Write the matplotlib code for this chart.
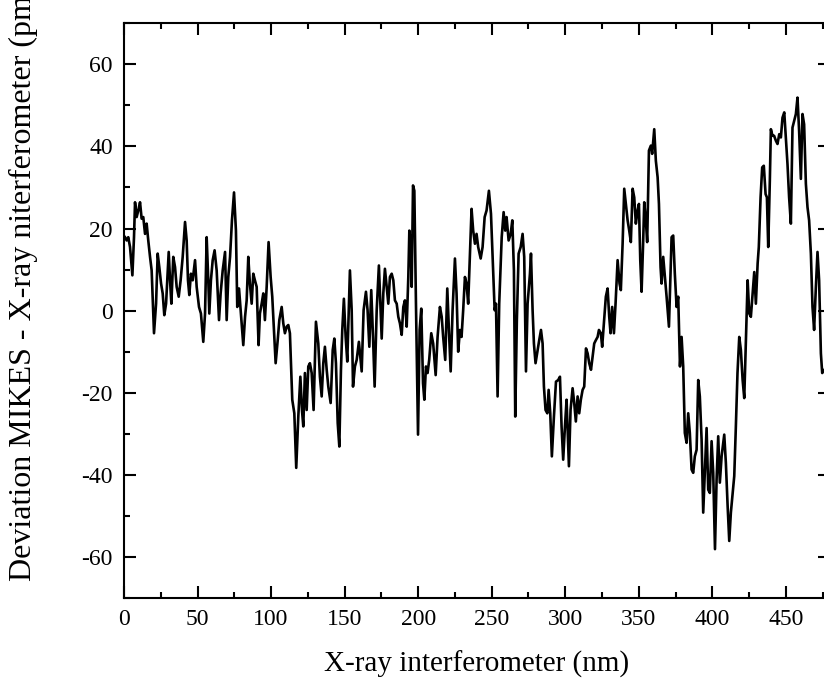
import matplotlib.pyplot as plt
from matplotlib.ticker import MultipleLocator

# X-ray interferometer position (nm) and deviation (pm)
x_nm = [
    0.7, 1.8, 2.9, 4.1, 5.7, 6.8, 7.5, 8.6, 9.7, 10.9, 12.0, 13.1, 14.3, 15.4, 16.5,
    17.7, 18.8, 20.4, 21.8, 22.9, 24.0, 25.2, 26.3, 27.4, 28.6, 30.4, 31.3, 32.2,
    33.5, 34.7, 35.8, 37.2, 38.5, 39.9, 41.5, 42.6, 43.5, 44.4, 45.5, 46.7, 48.3,
    49.4, 51.0, 52.3, 53.9, 55.1, 56.2, 57.3, 58.0, 59.1, 60.3, 61.6, 63.0, 64.6,
    65.7, 67.1, 68.7, 69.8, 70.9, 72.1, 73.4, 74.8, 76.1, 77.0, 78.2, 79.3, 81.1,
    82.3, 83.4, 84.5, 85.6, 86.8, 87.9, 89.0, 90.2, 91.5,
    92.4, 93.6, 94.7, 95.8, 97.0, 98.3, 99.7, 100.8, 101.7, 103.1, 104.5, 105.6,
    107.2, 108.3, 109.4, 110.6, 111.7, 112.8, 114.4, 115.8, 117.1, 118.5, 119.9,
    121.0, 121.9, 123.0, 124.2, 125.3, 126.4, 127.6, 128.9, 130.5, 132.1, 133.2,
    134.4, 135.5, 136.6, 137.8, 138.9, 140.5, 141.9, 143.0, 144.1, 145.3, 146.4,
    147.5, 148.4, 149.5, 150.7, 151.8, 153.6, 154.8, 155.7, 157.0, 158.2, 159.7,
    161.6, 162.9, 164.5, 165.6, 166.8, 168.1, 169.3, 170.4, 171.8, 173.3, 175.2,
    176.3, 177.4, 178.6, 179.7, 180.8, 182.0, 183.1, 184.2,
    185.4, 186.5, 187.6, 188.8, 189.9, 191.0, 192.2, 193.3, 194.0, 194.9, 195.6,
    196.5, 197.4, 198.5, 199.9, 201.0, 202.1, 203.3, 204.2, 205.3, 206.4, 207.5,
    208.9, 210.2, 211.9, 213.2, 214.8, 216.0, 217.0, 218.4, 219.8, 220.9, 222.1,
    223.4, 225.0, 226.1, 227.2, 228.4, 229.5, 230.6, 231.8, 232.9, 234.0, 235.2,
    236.3, 237.4, 238.6, 239.7, 240.8, 242.5, 243.8, 245.2, 246.5, 248.1, 249.5,
    251.0, 252.0, 252.9, 254.0, 255.1, 256.8, 258.1, 259.2, 260.1, 261.5, 262.9,
    264.0, 265.1, 266.0, 267.1, 268.3, 269.7, 271.0, 272.1, 273.3, 274.4, 276.0,
    276.7, 277.8, 278.7, 279.8, 281.2, 282.3, 283.5, 284.6, 285.5, 286.6, 287.8,
    288.7, 289.8, 290.9, 292.3, 293.7, 295.2, 296.4, 297.5, 298.6, 299.8, 300.9,
    302.5, 303.6, 305.0, 306.1, 307.2, 308.4, 309.5, 310.6, 311.8, 312.9, 314.1,
    315.2, 316.3, 317.5, 318.6, 319.7, 320.8, 322.0, 322.9, 324.2, 325.1, 326.3,
    327.6, 328.8, 329.9, 330.8, 331.9, 333.1, 334.2, 335.6, 336.9, 337.8, 339.0,
    340.1, 341.2, 342.4, 343.5, 344.6, 345.8, 346.9, 348.0, 349.2, 350.1, 351.0,
    351.9, 353.0, 353.7, 354.8, 355.7, 356.9, 358.2, 359.1, 360.5, 361.6, 362.8,
    363.7, 364.8, 365.5, 366.6, 367.8, 368.9, 370.5,
    372.3, 373.4, 374.5, 375.7, 376.8, 378.0, 379.1, 380.2, 381.3, 382.5, 383.6,
    384.7, 385.9, 387.0, 388.1, 389.3, 390.4, 391.5, 392.7, 393.8, 394.9, 396.1,
    397.2, 398.3, 399.5, 400.6, 401.8, 402.9, 404.0, 405.1, 406.3, 407.4, 408.1,
    409.2, 410.4, 411.5, 412.6, 413.8, 414.9, 416.0, 417.1, 418.3, 419.4, 420.6,
    421.7, 422.8, 424.0, 425.1, 426.2, 427.4, 428.5, 429.6, 430.8, 431.6, 432.8,
    433.9, 435.0, 436.2, 437.1, 438.0, 439.1, 439.8, 440.9, 442.0, 443.2, 444.3,
    445.5, 446.6, 447.7, 448.9, 450.0, 451.1, 452.2, 453.4, 454.5, 455.6, 456.8,
    457.9, 459.0, 460.2, 461.3, 462.4, 463.6, 464.7, 465.8, 467.0, 468.1, 469.2,
    470.4, 471.5, 472.6, 473.8, 474.7, 477.0,
]
dev_pm = [
    17.9, 17.1, 17.9, 15.5, 8.6, 17.9, 26.4, 22.8, 24.4, 26.4, 22.4, 22.8, 18.7, 21.2, 17.1,
    13.1, 9.8, -5.5, 1.7, 13.9, 10.6, 6.6, 4.2, -1.1, 1.7, 14.3, 7.4, 1.7,
    13.1, 10.6, 5.8, 3.4, 7.4, 13.1, 21.6, 17.1, 7.4, 3.8, 9.0, 7.4, 12.3,
    5.8, 0.9, -0.7, -7.6, -0.7, 17.9, 7.4, -0.7, 7.4, 12.3, 14.7, 9.8, -2.3,
    4.2, 9.8, 14.3, -2.3, 8.2, 13.1, 22.0, 28.8, 19.5, 0.9, 5.4, 0.1, -8.4,
    -1.5, 2.5, 13.1, 6.6, 1.7, 9.0, 7.4, 5.8, -8.4,
    -0.7, 1.7, 4.2, -2.3, 5.8, 16.7, 8.2, 3.4, -3.1, -12.8, -7.2, -2.3,
    0.9, -3.1, -5.5, -3.9, -3.5, -5.5, -21.7, -25.0, -38.3, -25.8, -16.1,
    -24.2, -28.2, -15.2, -24.2, -13.6, -12.8, -15.2, -24.2, -2.7, -8.0, -16.1,
    -20.9, -12.8, -8.8, -14.4, -18.5, -22.5, -9.6, -6.8, -12.8, -27.4, -33.1,
    -14.4, -4.7, 2.9, -6.4, -12.4, 9.8, 0.1, -18.5, -13.6, -12.0, -7.6,
    -14.8, 0.1, 4.6, 0.1, -8.8, 5.0, -6.4, -18.5, 0.1, 11.0, -6.8,
    4.2, 10.2, 5.8, 1.7, 8.2, 9.0, 7.4, 2.5,
    1.7, -1.5, -3.1, -5.9, 0.9, 2.5, -3.9, 8.2, 19.5, 16.3, 5.8,
    30.5, 29.2, 1.7, -30.2, -4.7, 0.5, -17.7, -21.7, -13.6, -15.2, -12.0,
    -5.5, -8.0, -15.7, -6.4, 0.9, -1.5, -6.4, -12.0, 5.4, -4.7, -14.8,
    0.1, 12.7, 4.2, -10.0, -4.7, -6.4, 0.1, 8.2, 6.6, 1.7, 13.9,
    24.8, 19.5, 16.3, 18.7, 15.5, 12.7, 15.5, 22.8, 24.4, 29.2, 23.6,
    9.8, 0.1, 1.7, -20.9, 1.7, 17.9, 24.0, 19.5, 22.8, 17.1, 18.7,
    22.0, 9.8, -25.8, -2.3, 13.9, 15.5, 18.7, 13.1, -14.8, 1.7, 9.0,
    13.9, 0.1, -8.0, -12.8, -9.6, -7.2, -4.7, -8.0, -18.5, -24.2, -25.0,
    -19.3, -25.0, -35.5, -25.8, -17.3, -16.9, -16.1, -28.2, -36.3, -28.2, -21.7,
    -37.9, -24.2, -18.9, -22.5, -27.0, -20.9, -25.0, -21.7, -19.3, -18.5, -9.2,
    -10.4, -12.8, -14.4, -11.2, -8.0, -7.2, -6.4, -4.7, -5.5, -8.8, -3.1,
    3.4, 5.4, -1.5, -5.5, 0.9, -5.5, 1.7, 12.3, 6.6, 5.0, 16.3,
    29.7, 26.0, 22.0, 19.5, 16.7, 29.7, 27.6, 21.2, 24.4, 26.0, 12.3,
    4.6, 17.1, 26.4, 22.0, 16.7, 39.0, 40.2, 38.2, 44.2, 36.5, 32.5,
    26.0, 10.6, 6.6, 13.1, 8.2, 3.4, -3.9,
    17.9, 18.3, 9.0, 0.9, 3.4, -13.6, -6.4, -13.6, -29.8, -32.2, -25.0,
    -29.8, -38.7, -39.5, -35.5, -33.9, -16.9, -20.9, -31.4, -49.2, -39.5, -28.6,
    -43.6, -44.4, -31.8, -39.5, -58.1, -41.1, -30.6, -41.9, -35.5, -32.2, -30.2,
    -37.1, -47.6, -56.1, -49.2, -44.4, -40.3, -28.2, -15.2, -6.4, -9.6, -16.9,
    -21.3, -8.0, 7.4, -0.7, -1.5, 4.2, 9.4, 1.7, 11.5, 15.5, 27.6,
    34.9, 35.3, 28.4, 27.6, 15.5, 31.7, 44.2, 42.6, 42.6, 41.4, 40.6,
    43.0, 42.2, 47.0, 48.3, 42.2, 35.7, 27.6, 21.2, 44.6, 46.2, 47.9,
    51.9, 43.8, 32.1, 47.9, 45.4, 30.9, 25.2, 22.0, 13.9, 0.9, -4.7,
    5.8, 14.3, 7.4, -10.4, -15.2, -14.0,
]

x_ticks = [0, 50, 100, 150, 200, 250, 300, 350, 400, 450]
y_ticks = [-60, -40, -20, 0, 20, 40, 60]

plt.rcParams['font.family'] = ['Liberation Serif', 'DejaVu Serif']

fig = plt.figure(figsize=(8.24, 6.87), dpi=100)
# the right edge of the axes lies just outside the picture, as in the source image
ax = fig.add_axes([124 / 824, 89 / 687, 706 / 824, 574.7 / 687])

ax.plot(x_nm, dev_pm, color='black', linewidth=1.9)

ax.set_xlim(0, 480)
ax.set_ylim(-70, 70)
ax.set_xticks(x_ticks)
ax.set_yticks(y_ticks)
ax.set_yticklabels([str(v) for v in y_ticks])
ax.xaxis.set_minor_locator(MultipleLocator(25))
ax.yaxis.set_minor_locator(MultipleLocator(10))

for side in ['left', 'right', 'top', 'bottom']:
    ax.spines[side].set_linewidth(1.5)
ax.tick_params(which='both', direction='in', top=True, right=True, width=1.5,
               labelsize=17)
ax.tick_params(which='major', length=8.5, pad=8)
ax.tick_params(which='minor', length=4.5)

ax.set_xlabel('X-ray interferometer (nm)', fontsize=21, labelpad=15)
fig.text(23 / 824, 1 - 581 / 687, 'Deviation MIKES - X-ray niterferometer (pm)',
         rotation=90, ha='center', va='bottom', fontsize=23)

fig.savefig('out.png', dpi=100)
